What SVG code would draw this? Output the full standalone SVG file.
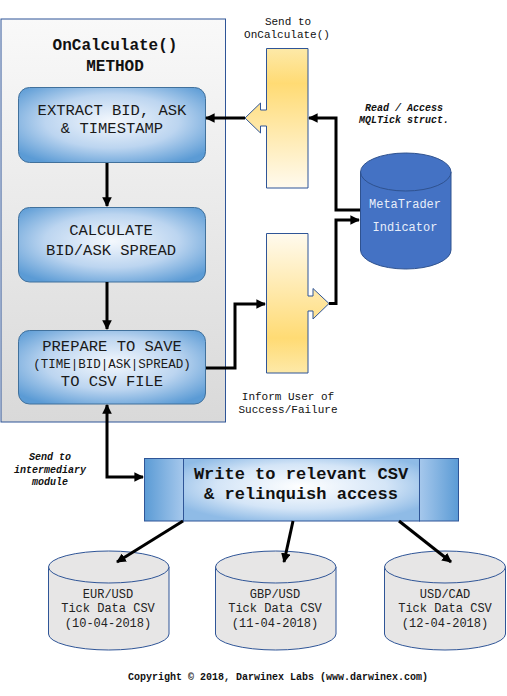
<svg xmlns="http://www.w3.org/2000/svg" width="507" height="696" viewBox="0 0 507 696">
<defs>
<linearGradient id="gCont" x1="0" y1="0" x2="0" y2="1">
<stop offset="0" stop-color="#f9f9f9"/><stop offset="1" stop-color="#d9d9d9"/>
</linearGradient>
<radialGradient id="gBox" cx="50%" cy="45%" r="65%">
<stop offset="0" stop-color="#f4f8fd"/><stop offset="0.55" stop-color="#bcd5f0"/><stop offset="1" stop-color="#5b9bd5"/>
</radialGradient>
<radialGradient id="gWrite" cx="50%" cy="45%" r="60%">
<stop offset="0" stop-color="#ffffff"/><stop offset="0.6" stop-color="#d4e5f7"/><stop offset="1" stop-color="#8fbbe6"/>
</radialGradient>
<linearGradient id="gSideL" x1="0" y1="0" x2="1" y2="0">
<stop offset="0" stop-color="#5b9bd5"/><stop offset="1" stop-color="#a6c8ec"/>
</linearGradient>
<linearGradient id="gSideR" x1="1" y1="0" x2="0" y2="0">
<stop offset="0" stop-color="#5b9bd5"/><stop offset="1" stop-color="#a6c8ec"/>
</linearGradient>
<linearGradient id="gY1" x1="0" y1="0" x2="0" y2="1">
<stop offset="0" stop-color="#fde9a8"/><stop offset="0.25" stop-color="#ffdb74"/><stop offset="1" stop-color="#fffaee"/>
</linearGradient>
<linearGradient id="gY2" x1="0" y1="1" x2="0" y2="0">
<stop offset="0" stop-color="#fde9a8"/><stop offset="0.25" stop-color="#ffdb74"/><stop offset="1" stop-color="#fffaee"/>
</linearGradient>
<marker id="ah" viewBox="0 0 10 10" refX="9" refY="5" markerWidth="3.2" markerHeight="3.2" orient="auto-start-reverse" markerUnits="strokeWidth">
<path d="M0,0 L10,5 L0,10 z" fill="#000"/>
</marker>
<style>
.mono{font-family:"Liberation Mono","Courier New",monospace;}
.box{fill:url(#gBox);stroke:#41719c;stroke-width:1;}
.bt{font-size:15.5px;fill:#1a1a1a;text-anchor:middle;}
.ttl{font-size:16px;font-weight:bold;fill:#111;text-anchor:middle;}
.sm{font-size:11px;fill:#111;text-anchor:middle;}
.it{font-size:10px;font-weight:bold;font-style:italic;fill:#111;text-anchor:middle;}
.cyl{fill:#e7e6e6;stroke:#2f5597;stroke-width:1;}
.ct{font-size:12px;fill:#222;text-anchor:middle;}
.ln{fill:none;stroke:#000;stroke-width:3;}
.yel{stroke:#2f5597;stroke-width:1;}
</style>
</defs>
<rect width="507" height="696" fill="#fff"/>

<g id="container">
<rect x="1" y="19" width="224.5" height="403" fill="url(#gCont)" stroke="#2f5597" stroke-width="1"/>
<text class="mono ttl" x="115" y="50">OnCalculate()</text>
<text class="mono ttl" x="115" y="71">METHOD</text>
</g>

<g id="extract">
<rect class="box" x="18.5" y="87.5" width="187" height="75" rx="11"/>
<text class="mono bt" x="112" y="115">EXTRACT BID, ASK</text>
<text class="mono bt" x="112" y="133">&amp; TIMESTAMP</text>
</g>

<g id="calculate">
<rect class="box" x="18.5" y="207.5" width="187" height="74.5" rx="11"/>
<text class="mono bt" x="111" y="235">CALCULATE</text>
<text class="mono bt" x="111" y="255">BID/ASK SPREAD</text>
</g>

<g id="prepare">
<rect class="box" x="18.5" y="330.5" width="187" height="73.5" rx="11"/>
<text class="mono bt" x="112" y="351">PREPARE TO SAVE</text>
<text class="mono" x="112" y="368" style="font-size:12.5px;fill:#1a1a1a;text-anchor:middle">(TIME|BID|ASK|SPREAD)</text>
<text class="mono bt" x="112" y="386">TO CSV FILE</text>
</g>

<g id="send-to">
<path class="yel" fill="url(#gY1)" d="M266.5,48.5 H308 V188 H266.5 V126 H260.5 V133 L245,118 L260.5,103 V110 H266.5 Z"/>
<text class="mono sm" x="288" y="25">Send to</text>
<text class="mono sm" x="287" y="38">OnCalculate()</text>
</g>

<g id="inform">
<path class="yel" fill="url(#gY2)" d="M266.5,233.5 H308 V296 H313 V288.5 L329,303.5 L313,319 V311 H308 V373 H266.5 Z"/>
<text class="mono sm" x="288" y="400">Inform User of</text>
<text class="mono sm" x="288" y="413">Success/Failure</text>
</g>

<g id="metatrader">
<path d="M360.5,172 V250 A45.25,19 0 0 0 451,250 V172" fill="#4472c4" stroke="#2f528f" stroke-width="1"/>
<ellipse cx="405.75" cy="172" rx="45.25" ry="19" fill="#4472c4" stroke="#2f528f" stroke-width="1"/>
<text class="mono" x="405" y="208" style="font-size:12px;fill:#e8eefa;text-anchor:middle">MetaTrader</text>
<text class="mono" x="405" y="231" style="font-size:12px;fill:#e8eefa;text-anchor:middle">Indicator</text>
<text class="mono it" x="404" y="111">Read / Access</text>
<text class="mono it" x="404" y="123">MQLTick struct.</text>
</g>

<g id="write">
<rect x="144.5" y="458.5" width="39" height="62.5" fill="url(#gSideL)" stroke="#2f5597" stroke-width="1"/>
<rect x="183.5" y="458.5" width="236" height="62.5" fill="url(#gWrite)" stroke="#2f5597" stroke-width="1"/>
<rect x="419.5" y="458.5" width="39" height="62.5" fill="url(#gSideR)" stroke="#2f5597" stroke-width="1"/>
<text class="mono" x="301" y="479" style="font-size:17px;font-weight:bold;fill:#111;text-anchor:middle">Write to relevant CSV</text>
<text class="mono" x="301" y="499" style="font-size:17px;font-weight:bold;fill:#111;text-anchor:middle">&amp; relinquish access</text>
<text class="mono it" x="50" y="460">Send to</text>
<text class="mono it" x="50" y="473">intermediary</text>
<text class="mono it" x="50" y="485">module</text>
</g>

<g id="eurusd">
<path class="cyl" d="M48.5,567 V634 A60.25,16 0 0 0 169,634 V567"/>
<ellipse class="cyl" cx="108.75" cy="567" rx="60.25" ry="16"/>
<text class="mono ct" x="108" y="598">EUR/USD</text>
<text class="mono ct" x="108" y="612">Tick Data CSV</text>
<text class="mono ct" x="108" y="627">(10-04-2018)</text>
</g>

<g id="gbpusd">
<path class="cyl" d="M215.5,567 V634 A60.25,16 0 0 0 336,634 V567"/>
<ellipse class="cyl" cx="275.75" cy="567" rx="60.25" ry="16"/>
<text class="mono ct" x="275" y="598">GBP/USD</text>
<text class="mono ct" x="275" y="612">Tick Data CSV</text>
<text class="mono ct" x="275" y="627">(11-04-2018)</text>
</g>

<g id="usdcad">
<path class="cyl" d="M384.5,567 V634 A60.5,16 0 0 0 505.5,634 V567"/>
<ellipse class="cyl" cx="445" cy="567" rx="60.5" ry="16"/>
<text class="mono ct" x="445" y="598">USD/CAD</text>
<text class="mono ct" x="445" y="612">Tick Data CSV</text>
<text class="mono ct" x="445" y="627">(12-04-2018)</text>
</g>

<g id="connectors">
<path class="ln" d="M245,118 H206" marker-end="url(#ah)"/>
<path class="ln" d="M107,163 V206" marker-end="url(#ah)"/>
<path class="ln" d="M107,282 V329" marker-end="url(#ah)"/>
<path class="ln" d="M360,210 H336 V118 H309" marker-end="url(#ah)"/>
<path class="ln" d="M329,303.5 H336 V220 H359" marker-end="url(#ah)"/>
<path class="ln" d="M206,368 H235 V304 H265" marker-end="url(#ah)"/>
<path class="ln" d="M107,405 V477 H143" marker-start="url(#ah)" marker-end="url(#ah)"/>
<path class="ln" d="M183,521 L117,562" marker-end="url(#ah)"/>
<path class="ln" d="M293,521 L284,562" marker-end="url(#ah)"/>
<path class="ln" d="M399,521 L451,562" marker-end="url(#ah)"/>
</g>

<text class="mono" x="278" y="680" style="font-size:10px;font-weight:bold;fill:#111;text-anchor:middle">Copyright © 2018, Darwinex Labs (www.darwinex.com)</text>
</svg>
